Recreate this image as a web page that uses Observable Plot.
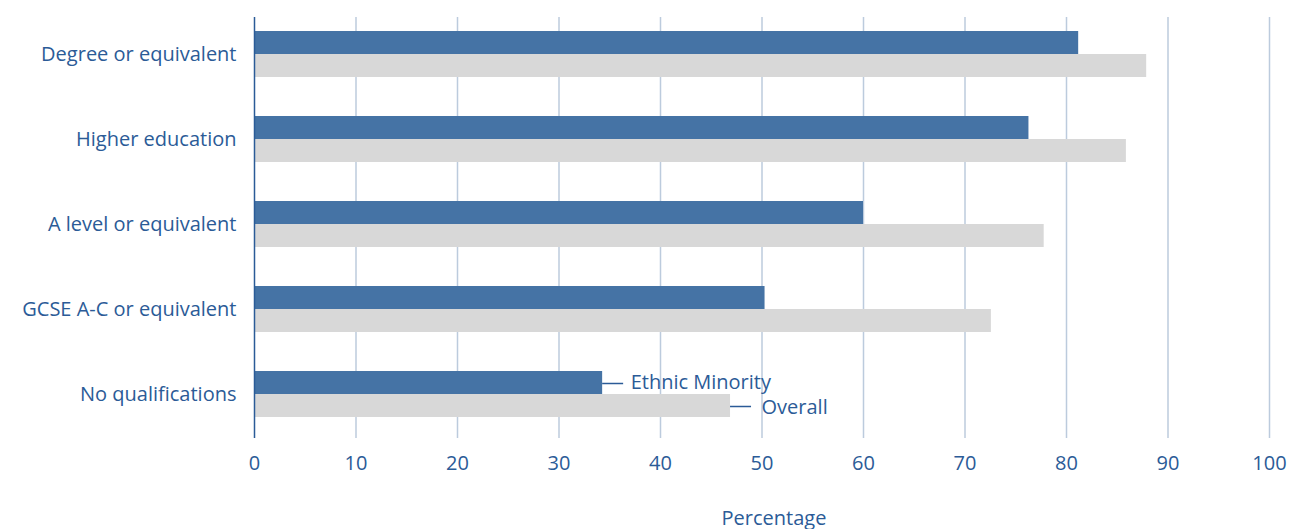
<!DOCTYPE html>
<html>
<head>
<meta charset="utf-8">
<script src="https://cdn.jsdelivr.net/npm/d3@7"></script>
<script src="https://cdn.jsdelivr.net/npm/@observablehq/plot@0.6"></script>
<style>
  html, body { margin: 0; padding: 0; background: #fff; }
  #chart svg { display: block; }
</style>
</head>
<body>
<div id="chart"></div>
<script>
const categories = ["Degree or equivalent", "Higher education", "A level or equivalent", "GCSE A-C or equivalent", "No qualifications"];
const ethnicMinority = [81.2, 76.3, 60.0, 50.3, 34.3];
const overall = [87.9, 85.9, 77.8, 72.6, 46.9];
const seriesNames = ["Ethnic Minority", "Overall"];
const xTicks = [0, 10, 20, 30, 40, 50, 60, 70, 80, 90, 100];
const xLabel = "Percentage";

const blue = "#4573a5";
const grey = "#d8d8d8";
const textColor = "#2b5b97";
const gridColor = "#bccbdd";
const font = "'Open Sans', Lato, sans-serif";

const em = categories.map((c, i) => ({cat: c, v: ethnicMinority[i], s: seriesNames[0]}));
const ov = categories.map((c, i) => ({cat: c, v: overall[i], s: seriesNames[1]}));
const last = categories[categories.length - 1];

const chart = Plot.plot({
  width: 1293,
  height: 529,
  marginLeft: 254,
  marginRight: 24,
  marginTop: 17,
  marginBottom: 91,
  style: {fontFamily: font, fontSize: "20px", color: textColor, background: "#fff"},
  x: {domain: [0, 100], ticks: xTicks},
  y: {domain: categories, range: [17, 430], paddingInner: 0.4604, paddingOuter: 0.1525},
  marks: [
    Plot.ruleX(xTicks.filter(d => d > 0), {stroke: gridColor, strokeWidth: 1.5}),
    Plot.barX(em, {x: "v", y: "cat", fill: blue, insetBottom: 23}),
    Plot.barX(ov, {x: "v", y: "cat", fill: grey, insetTop: 23}),
    Plot.ruleX([0], {stroke: textColor, strokeWidth: 1.5}),
    Plot.axisX({ticks: xTicks, tickSize: 0, tickPadding: 17, fontSize: 20, fill: textColor, label: null}),
    Plot.axisY({tickSize: 0, tickPadding: 18, fontSize: 20, fill: textColor, label: null}),
    Plot.text([xLabel], {frameAnchor: "bottom", dx: 12, dy: 86, fill: textColor, fontSize: 20}),
    Plot.ruleY(em.filter(d => d.cat === last), {x1: "v", x2: "v", y: "cat", dy: -11, insetRight: -21, stroke: textColor, strokeWidth: 1.5}),
    Plot.ruleY(ov.filter(d => d.cat === last), {x1: "v", x2: "v", y: "cat", dy: 12, insetRight: -21, stroke: textColor, strokeWidth: 1.5}),
    Plot.text(em.filter(d => d.cat === last), {x: "v", y: "cat", text: "s", dx: 28, dy: -12, textAnchor: "start", fill: textColor, fontSize: 20}),
    Plot.text(ov.filter(d => d.cat === last), {x: "v", y: "cat", text: "s", dx: 31, dy: 13, textAnchor: "start", fill: textColor, fontSize: 20})
  ]
});
document.getElementById("chart").appendChild(chart);
</script>
</body>
</html>
